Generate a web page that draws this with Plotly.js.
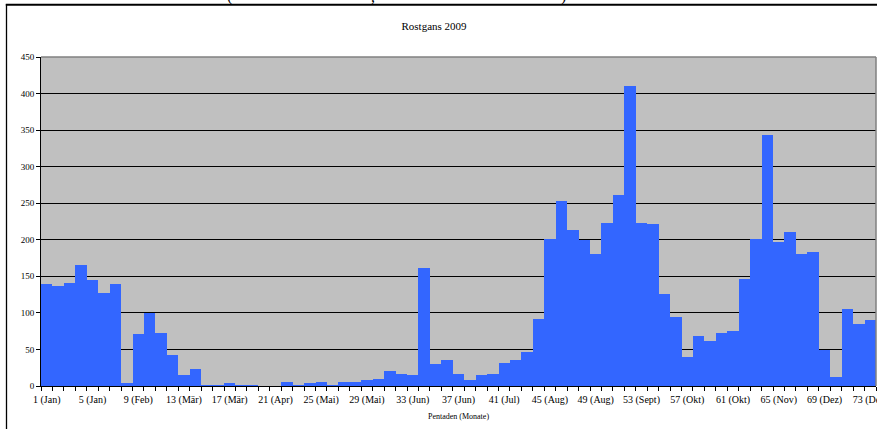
<!DOCTYPE html>
<html>
<head>
<meta charset="utf-8">
<script src="https://cdn.plot.ly/plotly-3.0.1.min.js"></script>
<style>
  html, body { margin: 0; padding: 0; background: #fff; }
  #chart { width: 877px; height: 429px; }
</style>
</head>
<body>
<div id="chart"></div>
<script>
// Pentads 1..73 (Rostgans 2009)
const pentads = Array.from({length: 73}, (_, i) => i + 1);
const counts = [
  139, 137, 141, 165, 145, 127, 139, 4, 71, 100,
  73, 42, 15, 23, 2, 2, 4, 2, 2, 0,
  0, 6, 1, 4, 5, 2, 5, 6, 8, 9,
  20, 17, 15, 162, 30, 35, 17, 8, 15, 17,
  31, 35, 47, 91, 201, 253, 213, 200, 180, 223,
  261, 410, 223, 221, 126, 94, 40, 69, 61, 73,
  75, 146, 201, 343, 197, 210, 180, 183, 49, 12,
  105, 85, 90
];
const tickPositions = [1, 5, 9, 13, 17, 21, 25, 29, 33, 37, 41, 45, 49, 53, 57, 61, 65, 69, 73];
const tickLabels = ["1 (Jan)", "5 (Jan)", "9 (Feb)", "13 (Mär)", "17 (Mär)", "21 (Apr)", "25 (Mai)",
  "29 (Mai)", "33 (Jun)", "37 (Jun)", "41 (Jul)", "45 (Aug)", "49 (Aug)", "53 (Sept)", "57 (Okt)",
  "61 (Okt)", "65 (Nov)", "69 (Dez)", "73 (Dez)"];
const yTicks = [0, 50, 100, 150, 200, 250, 300, 350, 400, 450];

const serif = "Liberation Serif, Times New Roman, serif";

const trace = {
  type: 'bar',
  x: pentads,
  y: counts,
  marker: { color: '#3366FF', line: { width: 0 } },
  hoverinfo: 'x+y'
};

// pixel helpers for paper-referenced decorations
const L = 41, R = 1, T = 57, B = 43, W = 877, H = 429;
const pw = W - L - R, ph = H - T - B;
const px = x => (x - L) / pw;
const py = y => (H - B - y) / ph;

const layout = {
  width: W, height: H,
  margin: { l: L, r: R, t: T, b: B, pad: 0 },
  paper_bgcolor: '#ffffff',
  plot_bgcolor: '#C0C0C0',
  bargap: 0,
  showlegend: false,
  title: {
    text: 'Rostgans 2009',
    font: { family: serif, size: 11, color: '#000' },
    x: px(434), xref: 'paper', xanchor: 'center',
    y: 1 - 26 / H, yref: 'container', yanchor: 'middle'
  },
  xaxis: {
    range: [0.5, 73.5],
    tickmode: 'array',
    tickvals: tickPositions,
    ticktext: tickLabels,
    ticks: '',
    ticklabeloverflow: 'allow',
    ticklabelstandoff: 4,
    showgrid: false,
    zeroline: false,
    showline: true, linecolor: '#000', linewidth: 1,
    tickfont: { family: serif, size: 10, color: '#000' },
    minor: { tickmode: 'linear', tick0: 0.5, dtick: 1, ticks: 'outside', ticklen: 4, tickcolor: '#000', tickwidth: 1, showgrid: false },
    title: { text: 'Pentaden (Monate)', font: { family: serif, size: 8, color: '#000' }, standoff: 8 },
    fixedrange: true
  },
  yaxis: {
    range: [0, 450],
    tickmode: 'array',
    tickvals: yTicks,
    ticks: 'outside', ticklen: 4, tickcolor: '#000',
    showgrid: true, gridcolor: '#000', gridwidth: 1,
    zeroline: false,
    showline: true, linecolor: '#000', linewidth: 1,
    tickfont: { family: serif, size: 9, color: '#000' },
    fixedrange: true
  },
  shapes: [
    // plot area border (top/right gray)
    { type: 'line', xref: 'paper', yref: 'paper', x0: 0, x1: 1, y0: 1, y1: 1, line: { color: '#808080', width: 1.5 } },
    { type: 'line', xref: 'paper', yref: 'paper', x0: 1, x1: 1, y0: 0, y1: 1, line: { color: '#808080', width: 1.5 } },
    // outer chart frame (left + top)
    { type: 'line', xref: 'paper', yref: 'paper', x0: px(6.5), x1: px(6.5), y0: py(4), y1: py(432), line: { color: '#000', width: 1.3 } },
    { type: 'line', xref: 'paper', yref: 'paper', x0: px(5.8), x1: px(880), y0: py(4.8), y1: py(4.8), line: { color: '#000', width: 2 } }
  ],
  annotations: [
    { text: '(', xref: 'paper', yref: 'paper', x: px(229), y: py(7), xanchor: 'center', yanchor: 'bottom', showarrow: false, font: { family: serif, size: 16, color: '#000' } },
    { text: ',', xref: 'paper', yref: 'paper', x: px(373), y: py(7), xanchor: 'center', yanchor: 'bottom', showarrow: false, font: { family: serif, size: 16, color: '#000' } },
    { text: ')', xref: 'paper', yref: 'paper', x: px(563), y: py(7), xanchor: 'center', yanchor: 'bottom', showarrow: false, font: { family: serif, size: 16, color: '#000' } }
  ]
};

Plotly.newPlot('chart', [trace], layout, { displayModeBar: false, staticPlot: true });
</script>
</body>
</html>
